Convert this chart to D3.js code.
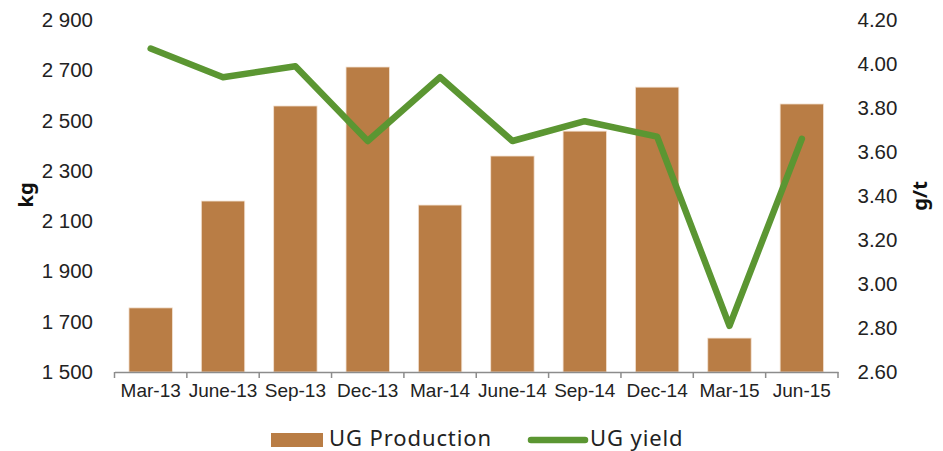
<!DOCTYPE html>
<html>
<head>
<meta charset="utf-8">
<script src="https://cdn.jsdelivr.net/npm/d3@7"></script>
<style>
  body { margin: 0; background: #fff; }
  svg { display: block; font-family: "Noto Sans", "DejaVu Sans", sans-serif; }
</style>
</head>
<body>
<div id="chart"></div>
<script>
const quarters = ['Mar-13','June-13','Sep-13','Dec-13','Mar-14','June-14','Sep-14','Dec-14','Mar-15','Jun-15'];
const production = [1755, 2180, 2558, 2713, 2164, 2359, 2458, 2633, 1635, 2566];
const yieldGt = [4.07, 3.94, 3.99, 3.65, 3.94, 3.65, 3.74, 3.67, 2.81, 3.66];
const kgTicks = [1500, 1700, 1900, 2100, 2300, 2500, 2700, 2900];
const gtTicks = [2.6, 2.8, 3.0, 3.2, 3.4, 3.6, 3.8, 4.0, 4.2];

const BAR = '#b97d45', LINE = '#5b9632';
const width = 943, height = 451;
const margin = { top: 20, right: 105, bottom: 79, left: 114.5 };
const cw = width - margin.left - margin.right;
const ch = height - margin.top - margin.bottom;

const svg = d3.select('#chart').append('svg').attr('width', width).attr('height', height);
const g = svg.append('g').attr('transform', 'translate(' + margin.left + ',' + margin.top + ')');

const x = d3.scaleBand().domain(quarters).range([0, cw]).paddingInner(0.4).paddingOuter(0.2);
const yL = d3.scaleLinear().domain([1500, 2900]).range([ch, 0]);
const yR = d3.scaleLinear().domain([2.6, 4.2]).range([ch, 0]);
const fmtKg = d => d3.format(',')(d).replace(',', ' ');

// Bars
g.selectAll('rect.bar').data(production).enter().append('rect')
  .attr('class', 'bar')
  .attr('x', (d, i) => x(quarters[i]))
  .attr('y', d => yL(d))
  .attr('width', x.bandwidth())
  .attr('height', d => ch - yL(d))
  .attr('fill', BAR)
  .attr('stroke', '#f3e2d2').attr('stroke-width', 0.8);

// X axis
const xa = g.append('g').attr('transform', 'translate(0,' + ch + ')')
  .call(d3.axisBottom(x).tickSize(0).tickPadding(11.5));
xa.select('.domain').attr('stroke', '#8c8c8c').attr('stroke-width', 1.5);
xa.selectAll('text').style('font-size', '19px').style('fill', '#222');
// tick marks at band edges
const step = x.step();
const edges = d3.range(quarters.length + 1).map(i => i * step);
xa.selectAll('line.edge').data(edges).enter().append('line')
  .attr('class', 'edge')
  .attr('x1', d => d).attr('x2', d => d)
  .attr('y1', 0).attr('y2', 6)
  .attr('stroke', '#8c8c8c').attr('stroke-width', 1.5);

// Left axis
const la = g.append('g').call(d3.axisLeft(yL).tickValues(kgTicks).tickFormat(fmtKg).tickSize(0).tickPadding(21.5));
la.select('.domain').remove();
la.selectAll('text').style('font-size', '20.5px').style('fill', '#222');

// Right axis
const ra = g.append('g').attr('transform', 'translate(' + cw + ',0)')
  .call(d3.axisRight(yR).tickValues(gtTicks).tickFormat(d3.format('.2f')).tickSize(0).tickPadding(19.5));
ra.select('.domain').remove();
ra.selectAll('text').style('font-size', '20.5px').style('fill', '#222');

// Line
const line = d3.line()
  .x((d, i) => x(quarters[i]) + x.bandwidth() / 2)
  .y(d => yR(d));
g.append('path').datum(yieldGt)
  .attr('d', line)
  .attr('fill', 'none')
  .attr('stroke', LINE)
  .attr('stroke-width', 6.5)
  .attr('stroke-linejoin', 'round')
  .attr('stroke-linecap', 'round');

// Axis titles
svg.append('text').attr('transform', 'translate(33,195) rotate(-90)')
  .attr('text-anchor', 'middle').style('font-size', '20px').style('font-weight', 'bold').style('fill', '#111')
  .text('kg');
svg.append('text').attr('transform', 'translate(927,196) rotate(-90)')
  .attr('text-anchor', 'middle').style('font-size', '20px').style('font-weight', 'bold').style('fill', '#111')
  .text('g/t');

// Legend
const lg = svg.append('g');
lg.append('rect').attr('x', 271).attr('y', 433).attr('width', 52).attr('height', 14).attr('fill', BAR);
lg.append('text').attr('x', 329).attr('y', 446).style('font-size', '22px').style('letter-spacing', '0.9px')
  .style('fill', '#222').text('UG Production');
lg.append('line').attr('x1', 531).attr('x2', 585).attr('y1', 440).attr('y2', 440)
  .attr('stroke', LINE).attr('stroke-width', 6.5).attr('stroke-linecap', 'round');
lg.append('text').attr('x', 590).attr('y', 446).style('font-size', '22px').style('letter-spacing', '0.9px')
  .style('fill', '#222').text('UG yield');
</script>
</body>
</html>
